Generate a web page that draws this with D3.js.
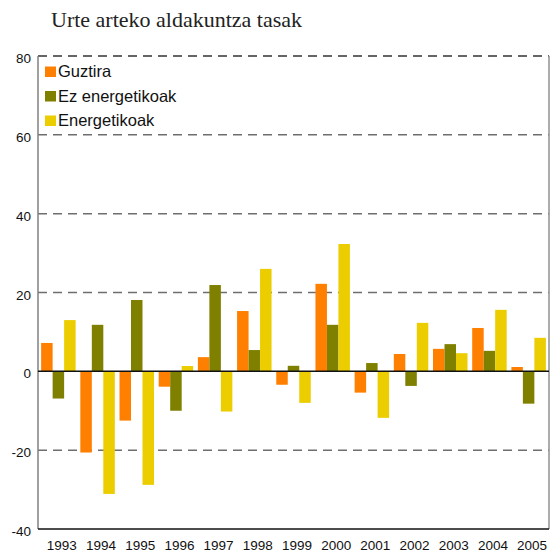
<!DOCTYPE html>
<html><head><meta charset="utf-8">
<script src="https://cdn.jsdelivr.net/npm/d3@7/dist/d3.min.js"></script>
<style>body{margin:0;background:#fff}svg{display:block}</style>
</head><body>
<script>
const years = ["1993","1994","1995","1996","1997","1998","1999","2000","2001","2002","2003","2004","2005"];
const seriesNames = ["Guztira","Ez energetikoak","Energetikoak"];
const guztira = [7.2,-20.6,-12.5,-3.9,3.6,15.3,-3.4,22.2,-5.4,4.4,5.7,11.0,1.1];
const ezEnergetikoak = [-6.9,11.8,18.1,-10.0,21.9,5.4,1.4,11.8,2.1,-3.7,6.9,5.2,-8.2];
const energetikoak = [13.0,-31.1,-28.8,1.35,-10.2,26.0,-8.0,32.3,-11.8,12.3,4.6,15.6,8.5];
const colors = ["#FF8000","#808000","#EBCD00"];
const yTicks = [80,60,40,20,0,-20,-40];
const title = "Urte arteko aldakuntza tasak";

const W=556,H=553;
const L=38,R=549,T=56,B=529;
const svg=d3.select("body").append("svg").attr("width",W).attr("height",H);
const allSeries=[guztira,ezEnergetikoak,energetikoak];
const y=d3.scaleLinear().domain([-40,80]).range([B,T]);
const x0=d3.scaleBand().domain(years).range([L,R]).paddingInner(0.12).paddingOuter(0.08);
const x1=d3.scaleBand().domain(seriesNames).range([0,x0.bandwidth()]);

svg.append("text").attr("x",51).attr("y",27).attr("font-family","'Liberation Serif',serif")
  .attr("font-size",22).attr("fill","#222").text(title);

// grid
svg.append("g").selectAll("line").data(yTicks.filter(d=>d!==0&&d!==-40&&d!==80)).join("line")
  .attr("x1",L).attr("x2",R).attr("y1",d=>y(d)).attr("y2",d=>y(d))
  .attr("stroke","#6e6e6e").attr("stroke-width",1.5).attr("stroke-dasharray","9,6");
svg.append("line").attr("x1",L).attr("x2",R).attr("y1",y(80)).attr("y2",y(80))
  .attr("stroke","#333").attr("stroke-width",1.5).attr("stroke-dasharray","9,6");

// bars
const g=svg.append("g");
years.forEach((yr,i)=>{
  seriesNames.forEach((s,j)=>{
    const v=allSeries[j][i];
    g.append("rect").attr("x",x0(yr)+x1(s)).attr("width",x1.bandwidth())
      .attr("y",y(Math.max(0,v))).attr("height",Math.abs(y(v)-y(0))).attr("fill",colors[j]);
  });
});

// axes lines
svg.append("line").attr("x1",L).attr("x2",L).attr("y1",T).attr("y2",B).attr("stroke","#808080").attr("stroke-width",1.5);
svg.append("line").attr("x1",R).attr("x2",R).attr("y1",T).attr("y2",B).attr("stroke","#909090").attr("stroke-width",1.5);
svg.append("line").attr("x1",L).attr("x2",R).attr("y1",B).attr("y2",B).attr("stroke","#111").attr("stroke-width",1.5);
svg.append("line").attr("x1",L).attr("x2",R).attr("y1",y(0)).attr("y2",y(0)).attr("stroke","#111").attr("stroke-width",1.5);

// y labels
svg.append("g").selectAll("text").data(yTicks).join("text")
  .attr("x",31).attr("y",d=>y(d)+7).attr("text-anchor","end")
  .attr("font-family","'Liberation Sans',Arial,sans-serif").attr("font-size",13.5).attr("fill","#111")
  .text(d=>d);
// x labels
svg.append("g").selectAll("text").data(years).join("text")
  .attr("x",d=>x0(d)+x0.bandwidth()/2+3.5).attr("y",550).attr("text-anchor","middle")
  .attr("font-family","'Liberation Sans',Arial,sans-serif").attr("font-size",13.5).attr("fill","#111")
  .text(d=>d);

// legend
const lg=svg.append("g");
seriesNames.forEach((s,j)=>{
  const by=77+j*24.5;
  lg.append("rect").attr("x",45).attr("y",by-10.5).attr("width",11).attr("height",10.5).attr("fill",colors[j]);
  lg.append("text").attr("x",58).attr("y",by).attr("font-family","'Liberation Sans',Arial,sans-serif")
    .attr("font-size",16.5).attr("fill","#111").text(s);
});
</script>
</body></html>
